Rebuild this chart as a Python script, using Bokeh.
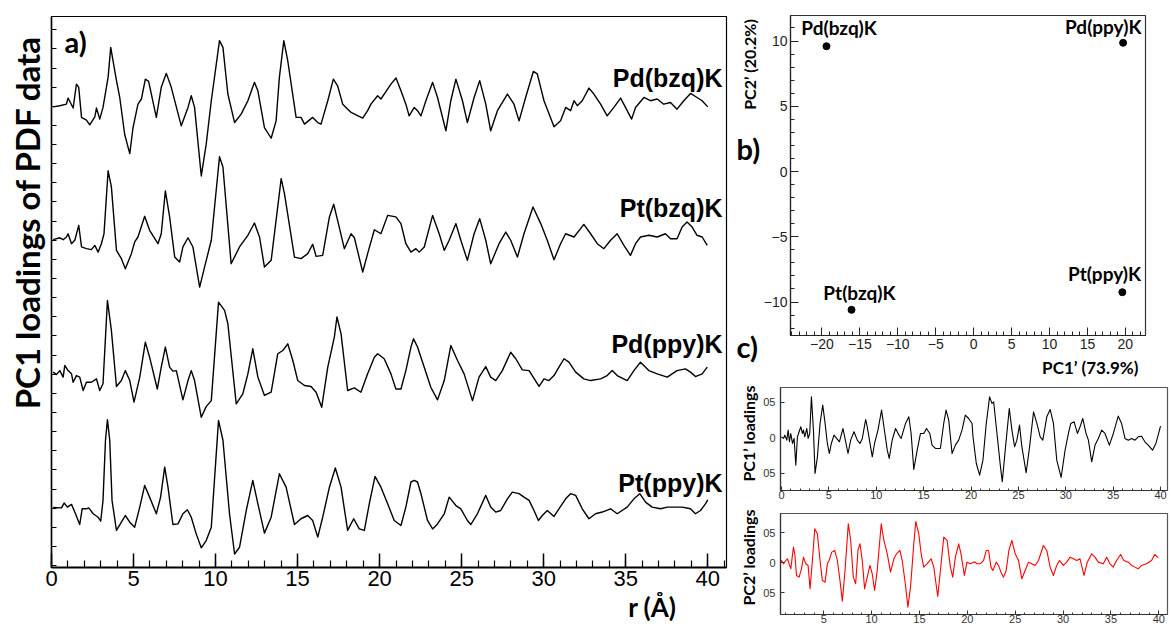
import math
from bokeh.plotting import figure
from bokeh.models import (Label, LabelSet, ColumnDataSource, SingleIntervalTicker,
                          FixedTicker, Range1d, Title)
from bokeh.core.properties import value
from bokeh.layouts import row, column
from bokeh.embed import file_html
from bokeh.resources import INLINE

# ---------------- data: panel a (PC1 loadings of PDF data, offset curves) -------------
names_a = ["Pd(bzq)K", "Pt(bzq)K", "Pd(ppy)K", "Pt(ppy)K"]

r_pd_bzq = [0.10, 0.51, 0.91, 1.01, 1.32, 1.52, 1.66, 1.83, 2.13, 2.33, 2.64, 2.74, 2.94, 3.14, 3.45, 3.61, 3.96, 4.16, 4.46, 4.77,
            4.97, 5.27, 5.48, 5.72, 5.92, 6.39, 6.69, 7.00, 7.30, 7.91, 8.32, 8.52, 8.72, 9.13, 9.43, 9.74, 10.24, 10.45, 10.75, 11.16,
            11.56, 11.97, 12.37, 12.58, 12.98, 13.39, 13.69, 13.89, 14.16, 14.40, 14.91, 15.21, 15.42, 15.92, 16.23, 16.43, 16.84, 17.18, 17.44, 17.75,
            18.26, 18.97, 19.27, 19.47, 19.88, 20.08, 20.28, 20.69, 21.00, 21.30, 21.60, 21.80, 22.11, 22.31, 22.52, 22.82, 23.23, 23.53, 24.04, 24.34,
            24.65, 25.05, 25.35, 25.76, 26.10, 26.47, 26.77, 27.18, 27.79, 28.19, 28.50, 28.90, 29.37, 29.61, 30.02, 30.63, 31.03, 31.34, 31.64, 31.85,
            32.05, 32.35, 32.76, 33.06, 33.47, 33.87, 34.28, 34.69, 35.09, 35.36, 35.60, 36.11, 36.51, 36.92, 37.32, 37.73, 38.13, 38.54, 38.95, 39.35,
            39.66, 40.00]
v_pd_bzq = [0.03, 0.09, 0.17, 0.49, -0.03, 1.22, 1.05, -0.52, -0.66, -0.91, -0.49, -0.03, -0.61, 0.00, 1.57, 3.14, 1.40, 0.52, -1.40, -2.41,
            -1.05, 0.17, 0.44, 1.48, 1.36, -0.52, 1.05, 1.78, 1.05, -0.96, 0.00, 0.61, 0.00, -3.58, -1.92, 0.35, 3.49, 3.14, 0.70, -0.79,
            -0.35, 0.35, 1.31, 0.87, -1.05, -1.61, -0.70, 1.57, 3.49, 2.44, -0.52, -0.52, -0.87, -0.52, -0.79, -0.87, 0.35, 1.48, 1.13, 0.17,
            -0.26, -0.56, -0.17, 0.17, 0.61, 0.44, 0.70, 1.22, 1.54, 0.87, 0.17, -0.44, 0.00, -0.17, -0.44, 0.35, 1.31, 0.52, -1.22, 0.35,
            1.48, 0.35, -0.79, 0.52, 1.40, 0.17, -1.22, -0.17, 0.70, 0.17, -0.70, 0.52, 1.88, 1.75, 0.35, -1.01, -0.70, 0.00, -0.17, 0.35,
            0.09, 0.35, 1.01, 0.70, 0.17, -0.44, 0.00, 0.49, -0.17, -0.61, 0.00, 0.52, 0.35, 0.44, 0.17, 0.26, -0.09, 0.35, 0.73, 0.52,
            0.35, 0.03]

r_pt_bzq = [0.10, 0.51, 0.71, 0.91, 1.01, 1.22, 1.42, 1.66, 1.83, 2.13, 2.43, 2.64, 2.84, 3.04, 3.20, 3.45, 3.65, 3.96, 4.26, 4.50,
            4.87, 5.07, 5.27, 5.68, 5.98, 6.49, 6.69, 6.94, 7.20, 7.51, 7.81, 8.01, 8.32, 8.62, 9.03, 9.33, 9.74, 10.24, 10.45, 10.95,
            11.46, 11.97, 12.37, 12.68, 12.98, 13.39, 14.00, 14.20, 14.81, 15.21, 15.62, 15.92, 16.13, 16.53, 16.94, 17.20, 17.44, 17.85, 18.26, 18.46,
            18.97, 19.27, 19.68, 20.08, 20.49, 20.99, 21.30, 21.60, 21.91, 22.21, 22.41, 22.72, 23.23, 23.63, 23.94, 24.24, 24.65, 24.95, 25.35, 25.76,
            26.10, 26.47, 26.77, 27.28, 27.69, 27.99, 28.40, 28.80, 29.35, 29.82, 30.22, 30.63, 31.03, 31.34, 31.85, 32.45, 32.86, 33.27, 33.67, 34.08,
            34.48, 34.89, 35.29, 35.60, 35.90, 36.41, 36.92, 37.42, 37.73, 38.13, 38.44, 38.74, 39.05, 39.35, 39.66, 39.97]
v_pt_bzq = [0.00, 0.10, 0.00, 0.14, 0.31, -0.21, -0.03, 0.75, -0.38, -0.47, -0.52, -0.30, -0.65, -0.21, 0.31, 3.60, 2.76, -0.56, -0.99, -1.52,
            -0.73, -0.12, 0.14, 1.22, 0.49, -0.21, 0.31, 2.55, 1.19, -0.91, -1.17, -0.38, 0.10, -0.38, -2.48, -1.43, -0.03, 4.33, 3.80, -1.26,
            -0.38, 0.23, 0.87, 0.14, -1.43, -1.08, 3.19, 2.41, -0.91, -0.99, -0.73, -0.24, -0.87, -0.82, 1.19, 1.85, 1.01, -0.47, 0.31, 0.10,
            -1.69, -0.73, 0.52, 0.31, 1.27, 1.19, 0.84, -0.21, -0.65, -0.47, -0.65, -0.38, 1.27, 0.31, -0.56, -0.03, 0.84, -0.03, -1.08, 0.31,
            1.10, -0.03, -1.26, -0.21, 0.40, -0.03, -0.91, 0.31, 1.71, 0.84, -0.03, -1.05, -0.21, 0.31, 0.14, 0.80, 0.31, -0.21, -0.47, -0.03,
            0.31, -0.30, -0.82, -0.21, 0.14, 0.23, 0.14, 0.31, 0.05, 0.05, 0.66, 0.92, 0.66, 0.23, 0.14, -0.30]

r_pd_ppy = [0.10, 0.30, 0.51, 0.71, 0.81, 1.01, 1.22, 1.32, 1.52, 1.72, 1.93, 2.13, 2.43, 2.74, 2.94, 3.14, 3.41, 3.65, 3.96, 4.26,
            4.50, 4.77, 5.03, 5.38, 5.72, 5.98, 6.45, 6.69, 6.94, 7.20, 7.40, 7.61, 8.01, 8.32, 8.52, 8.72, 9.13, 9.43, 9.74, 10.18,
            10.55, 10.75, 11.26, 11.66, 11.97, 12.27, 12.58, 12.98, 13.39, 13.79, 14.10, 14.40, 14.71, 15.01, 15.42, 15.82, 16.13, 16.47, 16.84, 17.24,
            17.40, 17.65, 18.05, 18.46, 18.86, 19.27, 19.68, 19.88, 20.28, 20.69, 20.99, 21.30, 21.60, 21.91, 22.07, 22.31, 22.72, 23.12, 23.53, 23.94,
            24.34, 24.75, 25.15, 25.66, 26.06, 26.47, 26.77, 27.08, 27.48, 27.99, 28.30, 28.70, 29.11, 29.72, 30.02, 30.32, 30.63, 30.93, 31.24, 31.54,
            31.95, 32.45, 32.86, 33.47, 33.87, 34.18, 34.48, 35.09, 35.50, 35.90, 36.41, 36.92, 37.53, 38.13, 38.64, 38.95, 39.25, 39.66, 39.97]
v_pd_ppy = [0.02, -0.10, 0.10, -0.24, 0.37, 0.10, -0.07, -0.51, -0.16, -0.24, -0.94, -0.51, -0.51, -0.33, -0.94, -0.59, 3.77, 2.20, -0.73, -0.42,
            0.10, -0.42, -1.55, -0.24, 1.59, 0.80, -0.86, 0.28, 1.33, 0.28, 0.07, 0.10, -1.43, -0.42, 0.10, -0.42, -2.34, -1.78, -1.47, 3.68,
            3.25, 2.55, -1.64, -1.12, -0.07, 1.24, -0.24, -1.20, -1.03, 0.98, 1.15, 1.50, 0.63, -0.42, -0.68, -0.73, -1.03, -1.82, 0.28, 1.85,
            2.90, 2.02, -0.94, -0.80, -1.03, -0.07, 0.80, 0.98, 0.72, -0.07, -0.86, -0.86, 0.10, 1.33, 1.76, 1.33, 0.28, -0.77, -1.43, -0.42,
            1.41, 0.63, -0.07, -1.47, -0.24, 0.31, -0.24, -0.42, 0.10, 1.06, 0.72, 0.14, 0.10, -0.73, -0.33, -0.42, -0.16, 0.28, 0.72, 0.54,
            0.02, -0.33, -0.42, -0.33, -0.16, 0.10, -0.16, -0.42, 0.10, 0.54, 0.10, -0.07, -0.24, 0.10, 0.19, 0.02, -0.21, -0.07, 0.28]

r_pt_ppy = [0.10, 0.61, 0.77, 0.97, 1.22, 1.42, 1.72, 1.87, 2.13, 2.27, 2.54, 2.84, 3.00, 3.14, 3.29, 3.41, 3.55, 3.69, 3.96, 4.26,
            4.50, 4.77, 5.07, 5.38, 5.68, 5.98, 6.39, 6.65, 6.90, 7.10, 7.40, 7.71, 8.01, 8.28, 8.52, 8.82, 9.13, 9.43, 9.74, 10.18,
            10.45, 10.85, 11.16, 11.46, 11.87, 12.27, 12.58, 12.98, 13.39, 13.89, 14.30, 14.81, 15.21, 15.62, 15.92, 16.23, 16.53, 16.94, 17.30, 17.65,
            18.05, 18.42, 18.76, 19.07, 19.37, 19.72, 20.08, 20.49, 20.89, 21.30, 21.60, 21.91, 22.11, 22.31, 22.52, 22.92, 23.23, 23.53, 23.94, 24.24,
            24.65, 24.95, 25.35, 25.56, 25.96, 26.47, 26.77, 27.08, 27.38, 27.79, 28.09, 28.50, 28.80, 29.11, 29.41, 29.68, 29.92, 30.22, 30.63, 30.93,
            31.34, 31.64, 31.95, 32.35, 32.76, 33.16, 33.57, 34.08, 34.48, 35.09, 35.50, 35.86, 36.21, 36.61, 37.12, 37.53, 37.93, 38.44, 38.95, 39.25,
            39.56, 39.86, 40.00]
v_pt_ppy = [0.00, -0.02, 0.23, 0.02, 0.16, -0.24, -0.89, -0.07, -0.07, -0.02, -0.33, -0.51, -0.72, 0.37, 3.51, 4.59, 3.51, 0.37, -1.20, -0.77,
            -0.42, -0.77, -1.03, 0.02, 1.15, 0.54, -0.33, 0.54, 2.11, 1.06, -0.89, -0.86, -0.33, -0.12, -0.51, -1.38, -2.11, -1.73, -1.03, 4.55,
            3.51, -0.33, -2.43, -2.08, -0.16, 1.41, 0.19, -1.34, -0.51, 1.76, 1.06, -0.89, -0.59, -0.42, -0.68, -1.55, -0.51, 1.06, 2.06, 1.06,
            -1.20, -0.59, -1.12, -1.20, 0.19, 1.62, 1.06, 0.19, -0.68, -0.94, 0.02, 1.33, 1.41, 1.33, 0.72, -0.68, -1.12, -0.86, -0.33, 0.54,
            0.10, -0.07, -0.68, -0.89, -0.33, 0.63, 0.02, -0.24, -0.16, 0.45, 0.80, 0.72, 0.54, 0.37, -0.16, -0.68, -0.42, -0.16, -0.47, -0.07,
            0.45, 0.72, 0.63, -0.07, -0.59, -0.33, -0.24, -0.07, -0.33, 0.02, 0.45, 0.72, 0.28, 0.02, -0.07, 0.02, 0.02, 0.02, -0.07, -0.33,
            -0.16, 0.19, 0.40]

# ---------------- data: panel b (scores) ----------------
names_b = ["Pd(bzq)K", "Pd(ppy)K", "Pt(bzq)K", "Pt(ppy)K"]
pc1_scores = [-19.4, 19.7, -16.1, 19.6]
pc2_scores = [9.6, 9.86, -10.6, -9.25]

# ---------------- data: panel c (PC1' and PC2' loadings) ----------------
r_pc1 = [0.00, 0.21, 0.35, 0.56, 0.70, 0.84, 0.98, 1.16, 1.33, 1.51, 1.68, 1.86, 2.04, 2.21, 2.32, 2.46, 2.67, 2.81, 2.98, 3.16,
         3.37, 3.54, 3.79, 4.07, 4.35, 4.56, 4.84, 5.05, 5.26, 5.54, 5.82, 6.11, 6.49, 6.67, 7.02, 7.30, 7.65, 8.00, 8.28, 8.53,
         8.88, 9.05, 9.58, 9.82, 10.18, 10.56, 10.81, 11.16, 11.37, 11.68, 12.04, 12.39, 12.63, 13.09, 13.44, 13.68, 13.96, 14.32, 14.67, 15.02,
         15.30, 15.65, 15.89, 16.25, 16.77, 17.12, 17.37, 17.65, 18.00, 18.35, 18.70, 19.05, 19.40, 19.75, 20.11, 20.21, 20.56, 20.91, 21.26, 21.61,
         21.96, 22.21, 22.39, 22.74, 23.09, 23.30, 23.61, 24.04, 24.32, 24.60, 24.84, 25.12, 25.37, 25.82, 26.18, 26.60, 26.95, 27.30, 27.58, 28.00,
         28.35, 28.70, 29.05, 29.51, 29.93, 30.28, 30.53, 30.88, 31.23, 31.51, 31.79, 32.14, 32.39, 32.74, 33.09, 33.44, 33.79, 34.14, 34.60, 35.02,
         35.54, 35.89, 36.25, 36.60, 36.95, 37.30, 37.65, 38.00, 38.35, 38.70, 39.16, 39.51, 39.75, 40.00]
v_pc1 = [0.0014, -0.0009, 0.0038, -0.0033, 0.0108, -0.0056, 0.0061, -0.0080, -0.0009, -0.0385, 0.0014, 0.0085, 0.0155, 0.0061, 0.0108, 0.0014, 0.0131, -0.0009, 0.0061, 0.0577,
         0.0108, -0.0502, -0.0268, 0.0202, 0.0460, 0.0249, -0.0080, -0.0221, -0.0080, 0.0038, -0.0009, -0.0056, 0.0131, 0.0014, -0.0221, -0.0033, 0.0085, -0.0033, -0.0080, -0.0009,
         0.0258, 0.0155, -0.0268, -0.0080, 0.0108, 0.0390, 0.0155, -0.0174, -0.0291, -0.0033, 0.0131, 0.0038, -0.0009, 0.0202, 0.0296, 0.0061, -0.0446, -0.0174, 0.0061, 0.0061,
         0.0131, 0.0061, -0.0103, -0.0150, -0.0150, 0.0202, 0.0390, 0.0249, -0.0221, -0.0103, -0.0033, 0.0108, 0.0319, 0.0272, 0.0202, 0.0014, -0.0362, -0.0526, -0.0315, 0.0202,
         0.0577, 0.0484, 0.0507, 0.0061, -0.0385, -0.0620, -0.0174, 0.0413, 0.0108, -0.0127, -0.0033, 0.0178, -0.0127, -0.0493, -0.0127, 0.0366, 0.0202, 0.0014, -0.0033, 0.0296,
         0.0399, 0.0202, -0.0315, -0.0559, -0.0174, 0.0061, 0.0202, 0.0225, 0.0061, 0.0155, 0.0272, 0.0061, -0.0033, -0.0338, -0.0103, -0.0009, 0.0108, 0.0061, -0.0103, 0.0061,
         0.0305, 0.0202, -0.0009, -0.0033, -0.0009, -0.0033, 0.0014, 0.0023, -0.0056, -0.0103, -0.0174, -0.0080, 0.0038, 0.0164]

r_pc2 = [0.45, 0.59, 0.80, 1.05, 1.22, 1.39, 1.57, 1.84, 1.98, 2.16, 2.43, 2.68, 2.89, 3.13, 3.37, 3.58, 3.82, 4.07, 4.34, 4.62,
         4.86, 5.14, 5.39, 5.56, 5.84, 6.15, 6.43, 6.70, 6.95, 7.23, 7.57, 7.82, 8.09, 8.34, 8.58, 8.79, 9.03, 9.27, 9.55, 9.83,
         10.07, 10.32, 10.59, 11.01, 11.29, 11.64, 11.98, 12.33, 12.61, 12.96, 13.20, 13.55, 13.79, 14.07, 14.41, 14.62, 14.93, 15.18, 15.45, 15.80,
         16.22, 16.50, 16.91, 17.19, 17.54, 17.89, 18.23, 18.48, 18.75, 19.10, 19.34, 19.69, 19.97, 20.32, 20.66, 20.83, 21.01, 21.35, 21.70, 21.98,
         22.22, 22.47, 22.67, 23.02, 23.26, 23.51, 23.78, 24.06, 24.34, 24.65, 25.00, 25.35, 25.69, 26.04, 26.39, 26.74, 27.08, 27.43, 27.95, 28.30,
         28.65, 28.99, 29.34, 29.62, 30.03, 30.38, 30.73, 31.08, 31.42, 31.77, 32.19, 32.53, 32.99, 33.33, 33.68, 34.20, 34.55, 34.90, 35.24, 35.59,
         36.01, 36.35, 36.81, 37.15, 37.50, 37.85, 38.19, 38.72, 39.24, 39.58, 39.93]
v_pc2 = [0.0011, 0.0039, -0.0017, 0.0039, 0.0067, -0.0017, -0.0100, 0.0261, 0.0150, -0.0211, -0.0239, -0.0100, 0.0094, -0.0017, -0.0044, -0.0433, 0.0039, 0.0567, 0.0483, 0.0039,
         -0.0294, -0.0322, -0.0017, 0.0039, 0.0178, 0.0206, 0.0039, -0.0294, -0.0639, -0.0128, 0.0650, 0.0372, -0.0239, -0.0350, 0.0206, 0.0317, 0.0039, -0.0433, -0.0239, -0.0044,
         -0.0183, -0.0461, -0.0128, 0.0650, 0.0372, 0.0150, -0.0156, 0.0067, 0.0150, 0.0206, 0.0039, -0.0378, -0.0739, -0.0406, 0.0317, 0.0689, 0.0483, 0.0150, -0.0072, -0.0017,
         0.0067, -0.0072, -0.0561, -0.0128, 0.0428, 0.0372, -0.0072, -0.0239, 0.0094, 0.0317, 0.0150, -0.0211, 0.0011, -0.0017, 0.0011, 0.0011, -0.0017, -0.0017, 0.0039, 0.0206,
         0.0206, -0.0072, -0.0128, 0.0011, -0.0044, -0.0156, -0.0239, -0.0128, 0.0206, 0.0372, 0.0150, 0.0039, -0.0267, -0.0128, 0.0011, -0.0017, -0.0044, 0.0039, 0.0289, 0.0206,
         -0.0072, -0.0211, -0.0044, 0.0039, -0.0044, 0.0011, 0.0094, 0.0067, 0.0039, 0.0067, -0.0211, 0.0011, 0.0150, 0.0094, 0.0011, -0.0017, 0.0094, -0.0017, -0.0072, 0.0039,
         0.0139, 0.0039, 0.0011, -0.0044, -0.0072, -0.0100, -0.0044, -0.0017, 0.0039, 0.0139, 0.0083]

# ---------------- styling / layout constants ----------------
CAL = "Lato"
HEL = "Liberation Sans"
offsets_a = [23.94, 17.03, 10.09, 3.04]
curves_a = [(r_pd_bzq, v_pd_bzq), (r_pt_bzq, v_pt_bzq), (r_pd_ppy, v_pd_ppy), (r_pt_ppy, v_pt_ppy)]


def style_axis(ax, size, color="black", font=HEL):
    ax.major_label_text_font = font
    ax.major_label_text_font_size = size
    ax.major_label_text_color = color
    ax.axis_line_color = color
    ax.major_tick_line_color = color
    ax.minor_tick_line_color = color


def bare(p):
    p.grid.visible = False
    p.background_fill_color = "white"
    p.border_fill_color = "white"


# ======================= panel a =======================
AX0, AXS, AYB, AYS, AY0 = 50.0, 16.43, 567.0, 19.14, -0.097
ax_px = lambda px: (px - AX0) / AXS
ay_px = lambda py: (AYB - py) / AYS + AY0

pa = figure(width=735, height=627, output_backend="svg", toolbar_location=None,
            x_range=Range1d(0, 676 / AXS), y_range=Range1d(AY0, AY0 + 551 / AYS),
            min_border_left=50, min_border_right=9, min_border_top=16, min_border_bottom=60)
bare(pa)
pa.outline_line_color = "black"
pa.outline_line_width = 1.2

pa.xaxis.ticker = SingleIntervalTicker(interval=5, num_minor_ticks=5)
style_axis(pa.xaxis[0], "22px")
pa.xaxis.major_tick_in = 14
pa.xaxis.major_tick_out = 0
pa.xaxis.minor_tick_in = 7
pa.xaxis.minor_tick_out = 0
pa.xaxis.axis_line_width = 2
pa.xaxis.major_tick_line_width = 1.5
pa.xaxis.minor_tick_line_width = 1.2
pa.xaxis.major_label_standoff = 3

pa.yaxis.ticker = SingleIntervalTicker(interval=1, num_minor_ticks=0)
style_axis(pa.yaxis[0], "0px")
pa.yaxis.major_label_text_color = None
pa.yaxis.major_tick_in = 5
pa.yaxis.major_tick_out = 0
pa.yaxis.axis_line_width = 1.5
pa.yaxis.major_label_standoff = 0

for (rr, vv), off in zip(curves_a, offsets_a):
    pa.line(rr, [v + off for v in vv], line_color="black", line_width=1.4, line_join="round")

label_baselines_a = [77, 207, 343, 482]
for nm, yb in zip(names_a, label_baselines_a):
    pa.add_layout(Label(x=ax_px(722), y=ay_px(yb), text=nm, text_align="right",
                        text_baseline="alphabetic", text_font=HEL, text_font_style="bold",
                        text_font_size="25px", text_color="black"))

pa.add_layout(Label(x=ax_px(63), y=ay_px(41), text="a)", text_align="left", text_baseline="middle",
                    text_font=CAL, text_font_style="bold", text_font_size="29px", text_color="black"))
pa.add_layout(Title(text="PC1 loadings of PDF data", align="right", offset=19, standoff=9,
                    text_font=CAL, text_font_style="bold", text_font_size="33px", text_color="black"), "left")
pa.add_layout(Title(text="r (Å)", align="right", offset=50, standoff=0,
                    text_font=CAL, text_font_style="bold", text_font_size="26px", text_color="black"), "below")

# ======================= label strip (texts left of panels b and c) =======================
ps = figure(width=25, height=627, output_backend="svg", toolbar_location=None,
            x_range=Range1d(735, 760), y_range=Range1d(627, 0),
            x_axis_type=None, y_axis_type=None,
            min_border_left=0, min_border_right=0, min_border_top=0, min_border_bottom=0)
bare(ps)
ps.outline_line_color = None
strip_labels = [
    ("b)", 736, 148, 0.0, "29px", "left"),
    ("c)", 736, 346, 0.0, "29px", "left"),
    ("PC2\u2019 (20.2%)", 749, 64, math.pi / 2, "16px", "center"),
    ("PC1\u2019 loadings", 748, 433, math.pi / 2, "16px", "center"),
    ("PC2\u2019 loadings", 748, 557, math.pi / 2, "16px", "center"),
]
for txt, lx, ly, ang, fs, al in strip_labels:
    ps.add_layout(Label(x=lx, y=ly, text=txt, angle=ang, text_align=al, text_baseline="middle",
                        text_font=CAL, text_font_style="bold", text_font_size=fs, text_color="black"))

# ======================= panel b =======================
BX0, BXS, BY0, BYS = 971.7, 7.65, 171.0, 13.05
bx_px = lambda px: (px - BX0) / BXS
by_px = lambda py: (BY0 - py) / BYS

pb = figure(width=411, height=380, output_backend="svg", toolbar_location=None,
            x_range=Range1d(bx_px(787), bx_px(1145)), y_range=Range1d(by_px(335), by_px(15)),
            min_border_left=27, min_border_right=26, min_border_top=15, min_border_bottom=45)
bare(pb)
pb.outline_line_color = "#333333"
pb.outline_line_width = 1.2
for ax in (pb.xaxis[0], pb.yaxis[0]):
    ax.ticker = SingleIntervalTicker(interval=5, num_minor_ticks=5)
    style_axis(ax, "14px", "#222222")
    ax.major_tick_in = 8
    ax.major_tick_out = 0
    ax.minor_tick_in = 4
    ax.minor_tick_out = 0
    ax.axis_line_width = 1.2
    ax.major_label_standoff = 3
pb.xaxis.major_label_overrides = {-20: "\u221220", -15: "\u221215", -10: "\u221210", -5: "\u22125"}
pb.yaxis.major_label_overrides = {-10: "\u221210", -5: "\u22125"}

src_b = ColumnDataSource(dict(x=pc1_scores, y=pc2_scores, name=names_b))
pb.scatter("x", "y", source=src_b, size=7, marker="circle", color="black")

label_dx = [12.7, -20.0, 8.0, -18.0]
label_dy = [19.0, 16.0, 17.6, 19.0]
src_bl = ColumnDataSource(dict(
    lx=[x + dx / BXS for x, dx in zip(pc1_scores, label_dx)],
    ly=[y + dy / BYS for y, dy in zip(pc2_scores, label_dy)],
    name=names_b))
pb.add_layout(LabelSet(x="lx", y="ly", text="name", source=src_bl, text_align="center",
                       text_baseline="middle", text_font=value(CAL), text_font_style="bold",
                       text_font_size=value("19px"), text_color="black"))
pb.add_layout(Title(text="PC1\u2019 (73.9%)", align="right", offset=7, standoff=6,
                    text_font=CAL, text_font_style="bold", text_font_size="17px", text_color="black"), "below")

# ======================= panel c =======================
def loading_fig(h, top, bottom, xr, yr, rr, vv, color):
    p = figure(width=411, height=h, output_backend="svg", toolbar_location=None,
               x_range=Range1d(*xr), y_range=Range1d(*yr),
               min_border_left=19, min_border_right=4, min_border_top=top, min_border_bottom=bottom)
    bare(p)
    p.outline_line_color = "#555555"
    p.outline_line_width = 1.2
    p.xaxis.ticker = SingleIntervalTicker(interval=5, num_minor_ticks=5)
    p.yaxis.ticker = FixedTicker(ticks=[-0.05, 0, 0.05])
    p.yaxis.major_label_overrides = {-0.05: "05", 0: "0", 0.05: "05"}
    for ax in (p.xaxis[0], p.yaxis[0]):
        style_axis(ax, "11px", "#333333")
        ax.major_tick_in = 4
        ax.major_tick_out = 0
        ax.minor_tick_in = 2
        ax.minor_tick_out = 0
        ax.axis_line_width = 1.2
    p.xaxis.major_label_standoff = 0
    p.yaxis.major_label_standoff = 5
    p.yaxis.minor_tick_line_color = None
    p.line(rr, vv, line_color=color, line_width=1.1, line_join="round")
    return p


C1X0, C1XS, C1Y0, C1YS = 780.0, 9.5, 437.3, 710.0
pc1 = loading_fig(130, 7, 20,
                  ((779 - C1X0) / C1XS, (1167 - C1X0) / C1XS),
                  ((C1Y0 - 490) / C1YS, (C1Y0 - 387) / C1YS),
                  r_pc1, v_pc1, "black")

C2X0, C2XS, C2Y0, C2YS = 774.3, 9.6, 562.3, 600.0
pc2 = loading_fig(117, 3, 13,
                  ((779 - C2X0) / C2XS, (1167 - C2X0) / C2XS),
                  ((C2Y0 - 614) / C2YS, (C2Y0 - 513) / C2YS),
                  r_pc2, v_pc2, "red")

# each figure wrapped in its own container so that frames are not aligned across figures
layout = row(pa, row(ps), column(row(pb), row(pc1), row(pc2)))
open("out.html", "w").write(file_html(layout, INLINE))
